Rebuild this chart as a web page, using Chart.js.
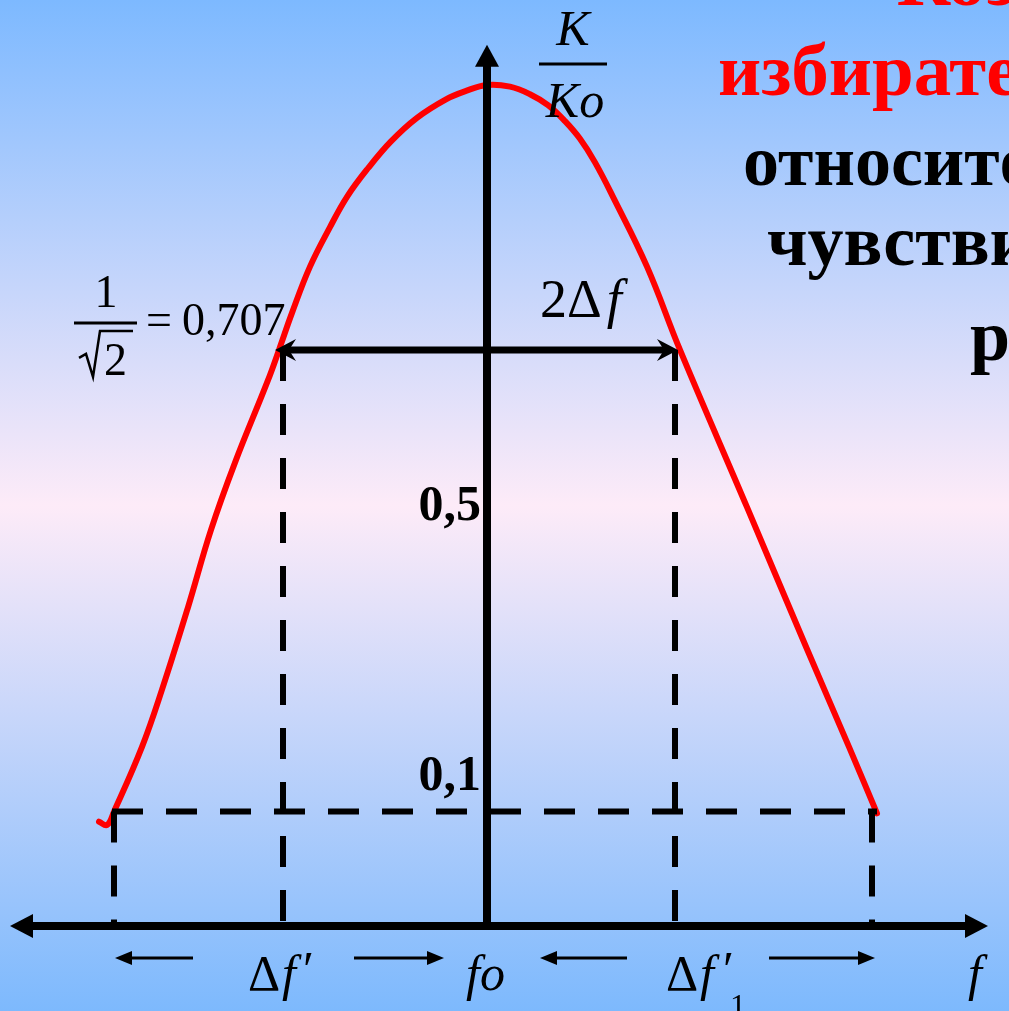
<!DOCTYPE html>
<html lang="ru">
<head>
<meta charset="utf-8">
<title>Избирательность</title>
<script src="https://cdn.jsdelivr.net/npm/chart.js@4.4.1/dist/chart.umd.min.js"></script>
<style>
  html, body { margin: 0; padding: 0; overflow: hidden; }
  body {
    width: 1009px; height: 1011px;
    background: linear-gradient(to bottom, #7db9ff 0%, #fdebf8 50%, #7db9fd 100%);
  }
  canvas { display: block; }
</style>
</head>
<body>
<canvas id="chart" width="1009" height="1011"></canvas>
<script>
// ── Data (x: offset from fo, y: K / Ko) ──────────────────────
const freqOffset = [-3.88, -3.80, -3.73, -3.45, -3.25, -2.99, -2.76, -2.52, -2.19, -2.08, -1.95, -1.77,
                    -1.57, -1.40, -1.19, -0.96, -0.70, -0.41, -0.21, 0.00, 0.23, 0.43, 0.61, 0.78,
                    0.93, 1.08, 1.26, 1.60, 1.93, 2.60, 3.19, 3.62, 3.90];
const gainRatio  = [0.124, 0.120, 0.136, 0.213, 0.281, 0.379, 0.471, 0.551, 0.649, 0.685, 0.729, 0.784,
                    0.831, 0.867, 0.901, 0.933, 0.961, 0.983, 0.993, 1.000, 0.998, 0.989, 0.976, 0.957,
                    0.936, 0.908, 0.867, 0.784, 0.685, 0.498, 0.332, 0.213, 0.134];

const halfPowerLevel = 0.685;          // 1/√2 level
const halfPowerBand  = [-2.04, 1.88];  // Δf edges
const lowLevel       = 0.136;          // 0,1 level
const lowBand        = [-3.73, 3.85];  // Δf' edges
const lowLine        = [-3.75, 3.90];
const yTickValues    = [0.5, lowLevel];
const yTickLabels    = ["0,5", "0,1"];

const headingLines = ["Коэффициент", "избирательности", "относительной", "чувствительности", "р"];

// ── Helpers ──────────────────────────────────────────────────
function seg(ctx, x1, y1, x2, y2) {
  ctx.beginPath();
  ctx.moveTo(x1, y1);
  ctx.lineTo(x2, y2);
  ctx.stroke();
}

// filled triangle, tip at (tx,ty), pointing along (dx,dy)
function head(ctx, tx, ty, dx, dy, len, half, notch = 0) {
  const nx = -dy, ny = dx;
  ctx.beginPath();
  ctx.moveTo(tx, ty);
  ctx.lineTo(tx - dx * len + nx * half, ty - dy * len + ny * half);
  ctx.lineTo(tx - dx * (len - notch), ty - dy * (len - notch));
  ctx.lineTo(tx - dx * len - nx * half, ty - dy * len - ny * half);
  ctx.closePath();
  ctx.fill();
}

function dashed(points) {
  return {
    data: points,
    showLine: true,
    borderColor: "#000",
    borderWidth: 6,
    borderDash: [31, 23],
    pointRadius: 0,
    tension: 0,
  };
}

// ── Axes, arrows and labels ──────────────────────────────────
const diagramPlugin = {
  id: "diagram",
  afterDatasetsDraw(chart) {
    const { ctx, scales: { x, y } } = chart;
    const px = v => x.getPixelForValue(v);
    const py = v => y.getPixelForValue(v);
    const ax = px(0), ay = py(0);

    ctx.save();
    ctx.strokeStyle = "#000";
    ctx.fillStyle = "#000";

    // axes
    ctx.lineWidth = 8;
    seg(ctx, px(-4.77) + 20, ay, px(5.01) - 20, ay);
    head(ctx, px(-4.77), ay, -1, 0, 23, 12);
    head(ctx, px(5.01), ay, 1, 0, 23, 12);
    seg(ctx, ax, ay, ax, py(1.048) + 18);
    head(ctx, ax, py(1.048), 0, -1, 22, 12);

    // 2Δf double arrow
    const hy = py(halfPowerLevel);
    const l = px(-2.12), r = px(1.91);
    ctx.lineWidth = 7;
    seg(ctx, l + 8, hy, r - 8, hy);
    head(ctx, l, hy, -1, 0, 21, 11, 7);
    head(ctx, r, hy, 1, 0, 21, 11, 7);

    // small arrows under the axis
    const by = py(-0.038);
    ctx.lineWidth = 3;
    [[-2.94, -3.72], [-1.33, -0.43], [1.40, 0.53], [2.82, 3.88]].forEach(([from, to]) => {
      const dir = Math.sign(to - from);
      seg(ctx, px(from), by, px(to) - dir * 10, by);
      head(ctx, px(to), by, dir, 0, 17, 7);
    });
    ctx.restore();
  },

  afterDraw(chart) {
    const { ctx, scales: { x, y } } = chart;
    const px = v => x.getPixelForValue(v);
    const py = v => y.getPixelForValue(v);
    const ax = px(0), ay = py(0);
    const serif = "'Liberation Serif', 'Times New Roman', serif";

    ctx.save();
    ctx.textBaseline = "alphabetic";

    // heading (cut by the right edge)
    const headX = [897, 718, 743, 767, 970];
    const headY = [5, 95, 185, 265, 360];
    headingLines.forEach((t, i) => {
      ctx.fillStyle = i < 2 ? "#ff0000" : "#000";
      ctx.font = `bold ${i < 2 ? 75 : 72}px ${serif}`;
      ctx.fillText(t, headX[i], headY[i]);
    });

    ctx.fillStyle = "#000";
    ctx.strokeStyle = "#000";

    // K / Ko
    ctx.textAlign = "center";
    ctx.font = `italic 50px ${serif}`;
    ctx.fillText("K", ax + 86, 45);
    ctx.fillText("Ko", ax + 88, 117);
    ctx.lineWidth = 3;
    seg(ctx, ax + 52, 64, ax + 120, 64);

    // y tick labels
    ctx.textAlign = "right";
    ctx.font = `bold 50px ${serif}`;
    ctx.textBaseline = "middle";
    ctx.fillText(yTickLabels[0], ax - 6, py(yTickValues[0]) + 2);
    ctx.textBaseline = "alphabetic";
    ctx.fillText(yTickLabels[1], ax - 6, py(yTickValues[1]) - 22);

    // 1/√2 = 0,707
    const hy = py(halfPowerLevel);
    ctx.font = `46px ${serif}`;
    ctx.textAlign = "center";
    ctx.fillText("1", 106, hy - 43);
    ctx.lineWidth = 3;
    seg(ctx, 74, hy - 27, 137, hy - 27);
    ctx.textAlign = "left";
    ctx.fillText("2", 104, hy + 25);
    ctx.lineWidth = 2.5;
    ctx.beginPath();
    ctx.moveTo(79, hy + 8);
    ctx.lineTo(86, hy + 4);
    ctx.lineTo(93, hy + 27);
    ctx.lineTo(100, hy - 19);
    ctx.lineTo(133, hy - 19);
    ctx.stroke();
    ctx.fillText("=", 146, hy - 15);
    ctx.fillText("0,707", 182, hy - 15);

    // 2Δf
    ctx.font = `54px ${serif}`;
    ctx.fillText("2Δ", ax + 53, hy - 33);
    const w2 = ctx.measureText("2Δ").width;
    ctx.font = `italic 54px ${serif}`;
    ctx.fillText("f", ax + 58 + w2, hy - 33);

    // labels under the axis
    const ly = ay + 64;
    const up = `50px ${serif}`, it = `italic 50px ${serif}`;
    // Δf'
    ctx.font = up;
    ctx.fillText("Δ", px(-2.39), ly);
    ctx.font = it;
    ctx.fillText("f", px(-2.39) + 34, ly);
    ctx.font = up;
    ctx.fillText("′", px(-2.39) + 55, ly - 4);
    // fo
    ctx.font = it;
    ctx.fillText("fo", px(-0.21), ly);
    // Δf'1
    ctx.font = up;
    ctx.fillText("Δ", px(1.79), ly);
    ctx.font = it;
    ctx.fillText("f", px(1.79) + 34, ly);
    ctx.font = up;
    ctx.fillText("′", px(1.79) + 57, ly - 4);
    ctx.font = `32px ${serif}`;
    ctx.fillText("1", px(1.79) + 64, ly + 26);
    // f
    ctx.font = it;
    ctx.fillText("f", px(4.81), ly);

    ctx.restore();
  },
};

// ── Chart ────────────────────────────────────────────────────
const ctx = document.getElementById("chart").getContext("2d");

new Chart(ctx, {
  type: "scatter",
  data: {
    datasets: [
      dashed([{ x: lowLine[0], y: lowLevel }, { x: lowLine[1], y: lowLevel }]),
      dashed([{ x: lowBand[0], y: lowLevel }, { x: lowBand[0], y: 0 }]),
      dashed([{ x: lowBand[1], y: lowLevel }, { x: lowBand[1], y: 0 }]),
      dashed([{ x: halfPowerBand[0], y: halfPowerLevel }, { x: halfPowerBand[0], y: 0 }]),
      dashed([{ x: halfPowerBand[1], y: halfPowerLevel }, { x: halfPowerBand[1], y: 0 }]),
      {
        label: "K/Ko",
        data: freqOffset.map((f, i) => ({ x: f, y: gainRatio[i] })),
        showLine: true,
        borderColor: "#ff0000",
        borderWidth: 6,
        borderCapStyle: "round",
        borderJoinStyle: "round",
        pointRadius: 0,
        tension: 0.4,
      },
    ],
  },
  options: {
    responsive: false,
    animation: false,
    layout: { padding: 0 },
    plugins: { legend: { display: false }, tooltip: { enabled: false } },
    scales: {
      x: { type: "linear", min: -4.87, max: 5.22, display: false },
      y: { type: "linear", min: -85 / 841, max: 926 / 841, display: false },
    },
  },
  plugins: [diagramPlugin],
});
</script>
</body>
</html>
